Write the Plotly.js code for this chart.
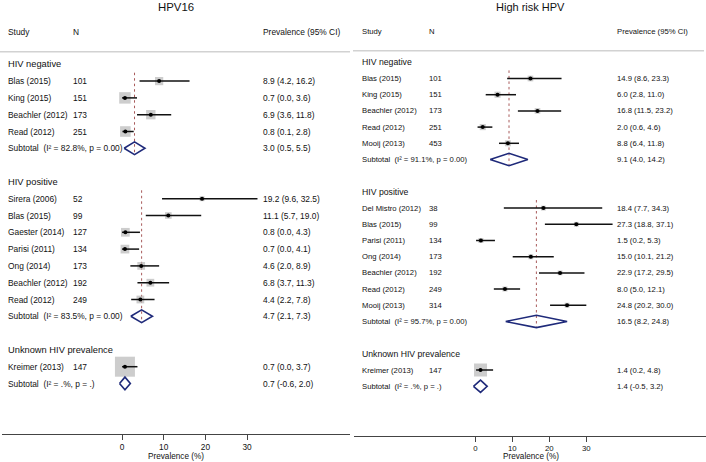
<!DOCTYPE html>
<html>
<head>
<meta charset="utf-8">
<script src="https://cdn.plot.ly/plotly-3.0.1.min.js"></script>
<style>html,body{margin:0;padding:0;background:#fff}#chart{width:706px;height:462px}</style>
</head>
<body>
<div id="chart"></div>
<script>
// ---------------- DATA ----------------
const groupNames = ["HIV negative", "HIV positive", "Unknown HIV prevalence"];

// HPV16 panel
const hpv16NegStudy = ["Blas (2015)", "King (2015)", "Beachler (2012)", "Read (2012)"];
const hpv16NegN     = [101, 151, 173, 251];
const hpv16NegEst   = [8.9, 0.7, 6.9, 0.8];
const hpv16NegLo    = [4.2, 0.0, 3.6, 0.1];
const hpv16NegHi    = [16.2, 3.6, 11.8, 2.8];
const hpv16NegW     = [17, 33, 22, 28];

const hpv16PosStudy = ["Sirera (2006)", "Blas (2015)", "Gaester (2014)", "Parisi (2011)", "Ong (2014)", "Beachler (2012)", "Read (2012)"];
const hpv16PosN     = [52, 99, 127, 134, 173, 192, 249];
const hpv16PosEst   = [19.2, 11.1, 0.8, 0.7, 4.6, 6.8, 4.4];
const hpv16PosLo    = [9.6, 5.7, 0.0, 0.0, 2.0, 3.7, 2.2];
const hpv16PosHi    = [32.5, 19.0, 4.3, 4.1, 8.9, 11.3, 7.8];
const hpv16PosW     = [6, 11, 19, 19, 15, 15, 15];

const hpv16UnkStudy = ["Kreimer (2013)"];
const hpv16UnkN     = [147];
const hpv16UnkEst   = [0.7];
const hpv16UnkLo    = [0.0];
const hpv16UnkHi    = [3.7];
const hpv16UnkW     = [100];

const hpv16SubEst = [3.0, 4.7, 0.7];
const hpv16SubLo  = [0.5, 2.1, -0.6];
const hpv16SubHi  = [5.5, 7.3, 2.0];
const hpv16SubI2  = ["82.8%", "83.5%", ".%"];
const hpv16SubP   = ["0.00", "0.00", "."];

// High risk HPV panel
const hrNegStudy = ["Blas (2015)", "King (2015)", "Beachler (2012)", "Read (2012)", "Mooij (2013)"];
const hrNegN     = [101, 151, 173, 251, 453];
const hrNegEst   = [14.9, 6.0, 16.8, 2.0, 8.8];
const hrNegLo    = [8.6, 2.8, 11.5, 0.6, 6.4];
const hrNegHi    = [23.3, 11.0, 23.2, 4.6, 11.8];
const hrNegW     = [19, 22, 19, 22, 21];

const hrPosStudy = ["Del Mistro (2012)", "Blas (2015)", "Parisi (2011)", "Ong (2014)", "Beachler (2012)", "Read (2012)", "Mooij (2013)"];
const hrPosN     = [38, 99, 134, 173, 192, 249, 314];
const hrPosEst   = [18.4, 27.3, 1.5, 15.0, 22.9, 8.0, 24.8];
const hrPosLo    = [7.7, 18.8, 0.2, 10.1, 17.2, 5.0, 20.2];
const hrPosHi    = [34.3, 37.1, 5.3, 21.2, 29.5, 12.1, 30.0];
const hrPosW     = [14, 14, 15, 14, 14, 15, 14];

const hrUnkStudy = ["Kreimer (2013)"];
const hrUnkN     = [147];
const hrUnkEst   = [1.4];
const hrUnkLo    = [0.2];
const hrUnkHi    = [4.8];
const hrUnkW     = [100];

const hrSubEst = [9.1, 16.5, 1.4];
const hrSubLo  = [4.0, 8.2, -0.5];
const hrSubHi  = [14.2, 24.8, 3.2];
const hrSubI2  = ["91.1%", "95.7%", ".%"];
const hrSubP   = ["0.00", "0.00", "."];

const tickVals = [0, 10, 20, 30];
const panelTitles = ["HPV16", "High risk HPV"];
const colHeaders = ["Study", "N", "Prevalence (95% CI)"];
const xTitle = "Prevalence (%)";

// ---------------- BUILD ----------------
const W = 706, H = 462;
const FONT = "Liberation Sans, Arial, Helvetica, sans-serif";
const TXT = "#111";
const px = p => p / W;
const py = p => 1 - p / H;

function mkGroups(studies, ns, ests, los, his, ws, sEst, sLo, sHi, sI2, sP) {
  return groupNames.map((g, i) => ({
    name: g, study: studies[i], n: ns[i], est: ests[i], lo: los[i], hi: his[i], w: ws[i],
    sub: {est: sEst[i], lo: sLo[i], hi: sHi[i], i2: sI2[i], p: sP[i]}
  }));
}

const panels = [
  {
    groups: mkGroups(
      [hpv16NegStudy, hpv16PosStudy, hpv16UnkStudy], [hpv16NegN, hpv16PosN, hpv16UnkN],
      [hpv16NegEst, hpv16PosEst, hpv16UnkEst], [hpv16NegLo, hpv16PosLo, hpv16UnkLo],
      [hpv16NegHi, hpv16PosHi, hpv16UnkHi], [hpv16NegW, hpv16PosW, hpv16UnkW],
      hpv16SubEst, hpv16SubLo, hpv16SubHi, hpv16SubI2, hpv16SubP),
    xa: "x", ya: "y", cols: [6.5, 71.5, 262], fsStudy: 8.4, fsGroup: 9.3, boxScale: 20,
    headerRow: -1.92, sepRow: -0.75, sepX: [0, 350], title: panelTitles[0], titleX: 176, titleFs: 11.4,
    xTitleX: 176, diamondH: 0.38
  },
  {
    groups: mkGroups(
      [hrNegStudy, hrPosStudy, hrUnkStudy], [hrNegN, hrPosN, hrUnkN],
      [hrNegEst, hrPosEst, hrUnkEst], [hrNegLo, hrPosLo, hrUnkLo],
      [hrNegHi, hrPosHi, hrUnkHi], [hrNegW, hrPosW, hrUnkW],
      hrSubEst, hrSubLo, hrSubHi, hrSubI2, hrSubP),
    xa: "x2", ya: "y2", cols: [361, 428, 615.5], fsStudy: 7.7, fsGroup: 8.7, boxScale: 13,
    headerRow: -1.89, sepRow: -0.72, sepX: [353, 704], title: panelTitles[1], titleX: 530, titleFs: 11,
    xTitleX: 531, diamondH: 0.38
  }
];

const traces = [];
const annotations = [];
const shapes = [];

function ann(text, xp, yv, yref, size) {
  annotations.push({text: text, x: px(xp), xref: "paper", xanchor: "left", y: yv, yref: yref,
    yanchor: "middle", showarrow: false, font: {family: FONT, size: size, color: TXT}, borderpad: 0});
}

panels.forEach(P => {
  const dash = {x: [], y: []}, ci = {x: [], y: []}, box = {x: [], y: [], s: []}, pt = {x: [], y: []}, dia = {x: [], y: []};
  let r = 0;
  ann(colHeaders[0], P.cols[0], P.headerRow, P.ya, P.fsStudy);
  ann(colHeaders[1], P.cols[1], P.headerRow, P.ya, P.fsStudy);
  ann(colHeaders[2], P.cols[2], P.headerRow, P.ya, P.fsStudy);
  P.groups.forEach(g => {
    ann(g.name, P.cols[0], r, P.ya, P.fsGroup);
    const first = r + 1;
    g.study.forEach((s, i) => {
      r++;
      ann(s, P.cols[0], r, P.ya, P.fsStudy);
      ann(String(g.n[i]), P.cols[1], r, P.ya, P.fsStudy);
      ann(g.est[i].toFixed(1) + " (" + g.lo[i].toFixed(1) + ", " + g.hi[i].toFixed(1) + ")", P.cols[2], r, P.ya, P.fsStudy);
      ci.x.push(g.lo[i], g.hi[i], null); ci.y.push(r, r, null);
      box.x.push(g.est[i]); box.y.push(r); box.s.push(P.boxScale * Math.sqrt(g.w[i] / 100));
      pt.x.push(g.est[i]); pt.y.push(r);
    });
    r++;
    const sb = g.sub;
    ann("Subtotal\u00a0\u00a0(I\u00b2 = " + sb.i2 + ", p = " + sb.p + ")", P.cols[0], r, P.ya, P.fsStudy);
    ann(sb.est.toFixed(1) + " (" + sb.lo.toFixed(1) + ", " + sb.hi.toFixed(1) + ")", P.cols[2], r, P.ya, P.fsStudy);
    const h = P.diamondH;
    dia.x.push(sb.lo, sb.est, sb.hi, sb.est, sb.lo, null);
    dia.y.push(r, r - h, r, r + h, r, null);
    if (g.study.length > 1) { dash.x.push(sb.est, sb.est, null); dash.y.push(first - 0.5, r + 0.4, null); }
    r += 2;
  });
  const common = {xaxis: P.xa, yaxis: P.ya, hoverinfo: "skip", showlegend: false, type: "scatter"};
  traces.push(Object.assign({}, common, {x: dash.x, y: dash.y, mode: "lines", line: {color: "#a85a5a", width: 1, dash: "2.5px,3px"}}));
  traces.push(Object.assign({}, common, {x: box.x, y: box.y, mode: "markers", marker: {symbol: "square", color: "#b8b8b8", size: box.s, line: {width: 0}}}));
  traces.push(Object.assign({}, common, {x: ci.x, y: ci.y, mode: "lines", line: {color: "#111", width: 1.5}}));
  traces.push(Object.assign({}, common, {x: pt.x, y: pt.y, mode: "markers", marker: {symbol: "circle", color: "#000", size: 4, line: {width: 0}}}));
  traces.push(Object.assign({}, common, {x: dia.x, y: dia.y, mode: "lines", line: {color: "#1f2a7a", width: 1.6}}));

  shapes.push({type: "line", xref: "paper", yref: P.ya, x0: px(P.sepX[0]), x1: px(P.sepX[1]), y0: P.sepRow, y1: P.sepRow,
    line: {color: "#d2d2d2", width: 1.5}});
  annotations.push({text: P.title, x: px(P.titleX), xref: "paper", xanchor: "center", y: py(7), yref: "paper",
    yanchor: "middle", showarrow: false, font: {family: FONT, size: P.titleFs, color: TXT}});
  annotations.push({text: xTitle, x: px(P.xTitleX), xref: "paper", xanchor: "center", y: py(456.7), yref: "paper",
    yanchor: "middle", showarrow: false, font: {family: FONT, size: 8.2, color: TXT}});
});

const xCommon = {tickvals: tickVals, ticktext: tickVals.map(String), ticks: "outside", ticklen: 5, tickcolor: "#444", tickwidth: 1,
  showline: true, linecolor: "#444", linewidth: 1, showgrid: false, zeroline: false, fixedrange: true,
  tickfont: {family: FONT, size: 8.3, color: TXT}};

const layout = {
  width: W, height: H, margin: {l: 0, r: 0, t: 0, b: 0}, paper_bgcolor: "#fff", plot_bgcolor: "rgba(0,0,0,0)",
  showlegend: false,
  xaxis: Object.assign({}, xCommon, {domain: [px(2), px(350)], range: [-28.8, 54.7], anchor: "y"}),
  yaxis: {domain: [28 / H, 1], range: [22.006, -3.827], visible: false, anchor: "x", fixedrange: true},
  xaxis2: Object.assign({}, xCommon, {domain: [px(354), 1], range: [-32.8, 62.35], anchor: "y2", tickfont: {family: FONT, size: 7.8, color: TXT}}),
  yaxis2: {domain: [(H - 435.7) / H, 1], range: [23.05, -3.846], visible: false, anchor: "x2", fixedrange: true},
  annotations: annotations,
  shapes: shapes
};

Plotly.newPlot("chart", traces, layout, {staticPlot: true, displayModeBar: false});
</script>
</body>
</html>
